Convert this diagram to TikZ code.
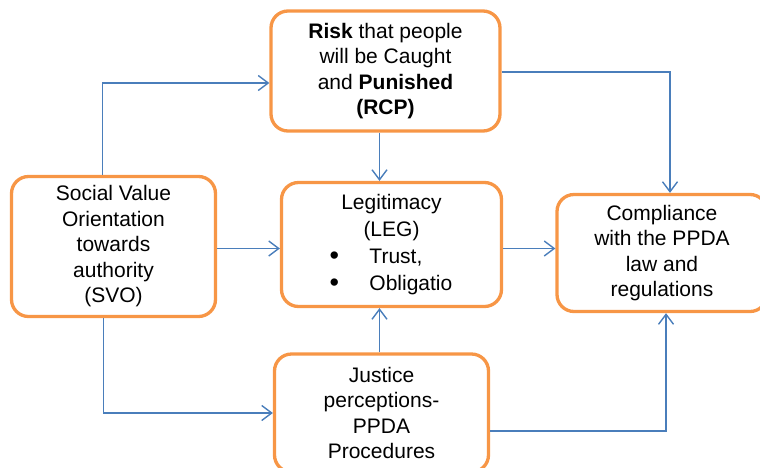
\documentclass[tikz,border=0pt]{standalone}
\usepackage{fontspec}
\setmainfont{Liberation Sans}
\usetikzlibrary{arrows.meta}

\definecolor{boxorange}{HTML}{F79646}
\definecolor{linkblue}{HTML}{4A7EBB}

\newcommand{\legbullet}[1]{\makebox[124pt][l]{\raisebox{-1pt}{\fontsize{27}{27}\selectfont\textbullet}\hspace{30.5pt}#1}}

\tikzset{
    factor/.style={draw=boxorange, line width=3.3pt, rounded corners=17pt, fill=white,
        align=center, inner sep=0pt, font=\fontsize{21}{25.5}\selectfont},
    conn/.style={draw=linkblue, line width=1.4pt,
        -{Straight Barb[length=10pt,width=15pt,line width=1.4pt]}}
}

\begin{document}
\begin{tikzpicture}[x=1pt, y=-1pt]
    \useasboundingbox (0,0) rectangle (760,467);
    \clip (0,0) rectangle (760,467);

    \node[factor, minimum width=229pt, minimum height=120pt] (rcp) at (385.5, 71)
        {\textbf{Risk} that people\\will be Caught\\and \textbf{Punished}\\\textbf{(RCP)}};
    \node[factor, minimum width=204pt, minimum height=140pt] (svo) at (113.5, 246.5)
        {Social Value\\Orientation\\towards\\authority\\(SVO)};
    \node[factor, minimum width=220pt, minimum height=124pt, font=\fontsize{21}{27}\selectfont] (leg) at (391.5, 244.5)
        {Legitimacy\\(LEG)\\\legbullet{Trust,}\\\legbullet{Obligatio}};
    \node[factor, minimum width=210pt, minimum height=117pt] (cmp) at (662, 253)
        {Compliance\\with the PPDA\\law and\\regulations};
    \node[factor, minimum width=214pt, minimum height=118pt] (jus) at (381.5, 413)
        {Justice\\perceptions-\\PPDA\\Procedures};

    \draw[conn] ([xshift=-11pt]svo.north) |- ([yshift=-12pt]rcp.west);
    \draw[conn] ([yshift=-2pt]svo.east) -- ([yshift=-2pt]svo.east -| leg.west);
    \draw[conn] ([xshift=-6pt]rcp.south) -- ([xshift=-6pt]rcp.south |- leg.north);
    \draw[conn] ([yshift=-1pt]rcp.east) -| ([xshift=8pt]cmp.north);
    \draw[conn] ([yshift=-4pt]leg.east) -- ([yshift=-4pt]leg.east -| cmp.west);
    \draw[conn] ([xshift=-2pt]jus.north) -- ([xshift=-2pt]jus.north |- leg.south);
    \draw[conn] ([yshift=-18pt]jus.east) -| ([xshift=4pt]cmp.south);
    \draw[conn] ([xshift=-10pt]svo.south) |- (jus.west);
\end{tikzpicture}
\end{document}
